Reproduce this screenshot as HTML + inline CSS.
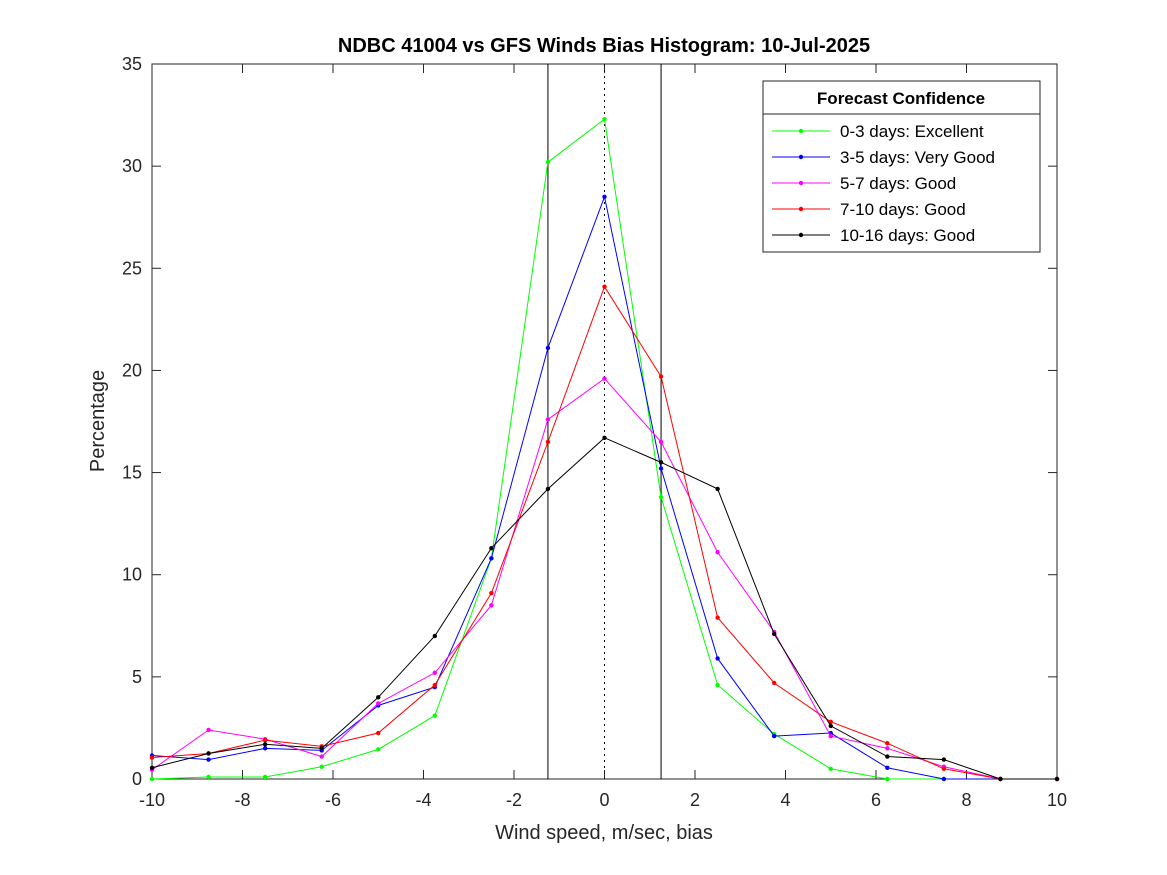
<!DOCTYPE html>
<html><head><meta charset="utf-8"><style>body{margin:0;background:#fff}svg{display:block;font-family:"Liberation Sans",sans-serif}</style></head>
<body>
<svg id="chart" width="1167" height="875" xmlns="http://www.w3.org/2000/svg"></svg>
<script>
const xValues=[-10,-8.75,-7.5,-6.25,-5,-3.75,-2.5,-1.25,0,1.25,2.5,3.75,5,6.25,7.5,8.75,10];
const green=[0,0.1,0.1,0.6,1.45,3.1,10.8,30.2,32.3,13.8,4.6,2.2,0.5,0,0,0,0];
const blue=[1.15,0.95,1.5,1.4,3.6,4.5,10.8,21.1,28.5,15.2,5.9,2.1,2.25,0.55,0,0,0];
const magenta=[0.45,2.4,1.95,1.1,3.7,5.2,8.5,17.6,19.6,16.5,11.1,7.2,2.1,1.5,0.6,0,0];
const red=[1.05,1.25,1.9,1.6,2.25,4.6,9.1,16.5,24.1,19.7,7.9,4.7,2.8,1.75,0.5,0,0];
const black=[0.55,1.25,1.7,1.5,4.0,7.0,11.3,14.2,16.7,15.5,14.2,7.1,2.6,1.1,0.95,0,0];
const seriesNames=["0-3 days: Excellent","3-5 days: Very Good","5-7 days: Good","7-10 days: Good","10-16 days: Good"];
const xTicks=[-10,-8,-6,-4,-2,0,2,4,6,8,10];
const yTicks=[0,5,10,15,20,25,30,35];
const refLines=[-1.25,0,1.25];
const L=152,R=1057,T=64,B=779;
const X=v=>L+(v+10)/20*(R-L), Y=v=>B-v/35*(B-T);
const svg=document.getElementById('chart');const NS="http://www.w3.org/2000/svg";
function mk(t,a,p){const e=document.createElementNS(NS,t);for(const k in a)e.setAttribute(k,a[k]);(p||svg).appendChild(e);return e;}
let e;
e=mk('rect',{x:L,y:T,width:R-L,height:B-T,fill:'#fff',stroke:'#262626','stroke-width':1});


xTicks.forEach(v=>{const x=X(v);
mk('line',{x1:x,x2:x,y1:B,y2:B-9,stroke:'#262626'});mk('line',{x1:x,x2:x,y1:T,y2:T+9,stroke:'#262626'});
e=mk('text',{x:x,y:B+27,'text-anchor':'middle','font-size':18,fill:'#262626'});e.textContent=v;

});
yTicks.forEach(v=>{const y=Y(v);
mk('line',{x1:L,x2:L+9,y1:y,y2:y,stroke:'#262626'});mk('line',{x1:R,x2:R-9,y1:y,y2:y,stroke:'#262626'});
e=mk('text',{x:L-10,y:y+6,'text-anchor':'end','font-size':18,fill:'#262626'});e.textContent=v;

});
refLines.forEach(v=>{e=mk('line',{x1:X(v),x2:X(v),y1:T,y2:B,stroke:'#000','stroke-width':1,'stroke-dasharray':v===0?'2,4':''});

});
const series=[[green,'#00ff00'],[blue,'#0000ff'],[magenta,'#ff00ff'],[red,'#ff0000'],[black,'#000000']];
series.forEach(([d,c],i)=>{const g=mk('g',{});


mk('polyline',{points:d.map((v,j)=>X(xValues[j])+','+Y(v)).join(' '),fill:'none',stroke:c,'stroke-width':1},g);
d.forEach((v,j)=>mk('circle',{cx:X(xValues[j]),cy:Y(v),r:2.2,fill:c},g));});
// legend
const lg=mk('g',{});


mk('rect',{x:763,y:81,width:277,height:171,fill:'#fff',stroke:'#262626'},lg);
mk('line',{x1:763,x2:1040,y1:114,y2:114,stroke:'#262626'},lg);
e=mk('text',{x:901,y:104,'text-anchor':'middle','font-size':17,'font-weight':'bold',fill:'#000'},lg);e.textContent='Forecast Confidence';
series.forEach(([d,c],i)=>{const y=131+i*26;
mk('line',{x1:772,x2:830,y1:y,y2:y,stroke:c},lg);mk('circle',{cx:801,cy:y,r:2.2,fill:c},lg);
e=mk('text',{x:840,y:y+6,'font-size':17,fill:'#000'},lg);e.textContent=seriesNames[i];

});
e=mk('text',{x:604,y:52,'text-anchor':'middle','font-size':20,'font-weight':'bold',fill:'#000'});e.textContent='NDBC 41004 vs GFS Winds Bias Histogram: 10-Jul-2025';


e=mk('text',{x:604,y:839,'text-anchor':'middle','font-size':20,fill:'#262626'});e.textContent='Wind speed, m/sec, bias';


e=mk('text',{x:0,y:0,'text-anchor':'middle','font-size':20,fill:'#262626',transform:'translate(104,421) rotate(-90)'});e.textContent='Percentage';


</script>
</body></html>
